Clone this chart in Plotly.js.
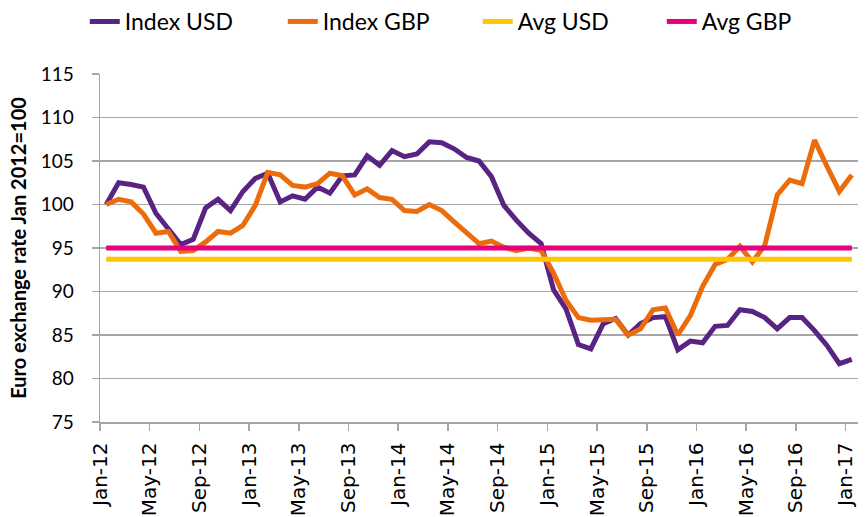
<!DOCTYPE html>
<html>
<head>
<meta charset="utf-8">
<script src="https://cdn.plot.ly/plotly-3.0.1.min.js"></script>
<style>html,body{margin:0;padding:0;background:#fff;}#chart{width:865px;height:517px;}</style>
</head>
<body>
<div id="chart"></div>
<script>
// Monthly categories Jan-12 .. Jan-17
const months = ['Jan-12','Feb-12','Mar-12','Apr-12','May-12','Jun-12','Jul-12','Aug-12','Sep-12','Oct-12','Nov-12','Dec-12',
  'Jan-13','Feb-13','Mar-13','Apr-13','May-13','Jun-13','Jul-13','Aug-13','Sep-13','Oct-13','Nov-13','Dec-13',
  'Jan-14','Feb-14','Mar-14','Apr-14','May-14','Jun-14','Jul-14','Aug-14','Sep-14','Oct-14','Nov-14','Dec-14',
  'Jan-15','Feb-15','Mar-15','Apr-15','May-15','Jun-15','Jul-15','Aug-15','Sep-15','Oct-15','Nov-15','Dec-15',
  'Jan-16','Feb-16','Mar-16','Apr-16','May-16','Jun-16','Jul-16','Aug-16','Sep-16','Oct-16','Nov-16','Dec-16',
  'Jan-17'];

const indexUSD = [100.0,102.5,102.3,102.0,99.0,97.2,95.4,96.0,99.6,100.6,99.3,101.5,
  103.0,103.6,100.3,101.0,100.6,102.0,101.3,103.3,103.4,105.6,104.5,106.2,
  105.5,105.8,107.2,107.1,106.4,105.4,105.0,103.2,99.9,98.2,96.7,95.5,
  90.2,88.0,83.9,83.4,86.3,86.9,85.0,86.3,87.0,87.1,83.3,84.3,
  84.1,86.0,86.1,87.9,87.7,87.0,85.7,87.0,87.0,85.5,83.8,81.7,
  82.2];

const indexGBP = [100.0,100.6,100.3,98.9,96.7,96.9,94.6,94.7,95.7,96.9,96.7,97.6,
  99.9,103.7,103.4,102.2,102.0,102.4,103.6,103.3,101.1,101.8,100.8,100.6,
  99.3,99.2,100.0,99.3,98.0,96.7,95.5,95.8,95.1,94.7,95.0,94.7,
  92.1,89.0,87.0,86.7,86.7,86.8,85.0,85.7,87.9,88.1,85.0,87.2,
  90.6,93.1,93.7,95.2,93.4,95.3,101.1,102.8,102.4,107.4,104.4,101.5,
  103.4];

const avgUSD = 93.7;
const avgGBP = 95.0;

const tickLabels = ['Jan-12','May-12','Sep-12','Jan-13','May-13','Sep-13','Jan-14','May-14','Sep-14','Jan-15','May-15','Sep-15','Jan-16','May-16','Sep-16','Jan-17'];

// points sit mid-month on a date-like axis; ticks at month starts
const xs = months.map((m, i) => i + 0.5);
const tickVals = tickLabels.map(t => months.indexOf(t));

const traces = [
  {name: 'Index USD', x: xs, y: indexUSD, type: 'scatter', mode: 'lines', line: {color: '#582382', width: 5}, legendwidth: 153},
  {name: 'Index GBP', x: xs, y: indexGBP, type: 'scatter', mode: 'lines', line: {color: '#EC6C0C', width: 5}, legendwidth: 150},
  {name: 'Avg USD', x: xs, y: months.map(() => avgUSD), type: 'scatter', mode: 'lines', line: {color: '#FFC600', width: 5}, legendwidth: 139},
  {name: 'Avg GBP', x: xs, y: months.map(() => avgGBP), type: 'scatter', mode: 'lines', line: {color: '#E5007D', width: 5}, legendwidth: 100}
];

const grid = '#A6A6A6';
const layout = {
  width: 865, height: 517,
  margin: {l: 100, r: 7, t: 74, b: 95},
  paper_bgcolor: '#fff', plot_bgcolor: '#fff',
  showlegend: true,
  legend: {orientation: 'h', x: 0.098, xanchor: 'left', xref: 'container', y: 1, yanchor: 'top', yref: 'container',
    font: {family: 'Lato', size: 23, color: '#000'}, itemwidth: 30, traceorder: 'normal'},
  xaxis: {
    range: [0, 61], tickmode: 'array', tickvals: tickVals, ticktext: tickLabels, tickangle: -90,
    ticks: 'outside', ticklen: 7, tickwidth: 1.5, tickcolor: grid,
    showline: true, linecolor: grid, linewidth: 1.5, showgrid: false, zeroline: false,
    tickfont: {family: 'DejaVu Sans', size: 20, color: '#000'}, ticklabelstandoff: 4
  },
  yaxis: {
    range: [75, 115], dtick: 5, tick0: 75,
    ticks: 'outside', ticklen: 7, tickwidth: 1.5, tickcolor: grid,
    showline: true, linecolor: grid, linewidth: 1.5,
    showgrid: true, gridcolor: grid, gridwidth: 1.5, zeroline: false,
    tickfont: {family: 'Lato', size: 19, color: '#000'}, ticklabelstandoff: 14,
    title: {text: 'Euro exchange rate Jan 2012=100', font: {family: 'Lato', size: 20, color: '#000', weight: 'bold'}, standoff: 8}
  }
};

Plotly.newPlot('chart', traces, layout, {displayModeBar: false, staticPlot: true});
</script>
</body>
</html>
